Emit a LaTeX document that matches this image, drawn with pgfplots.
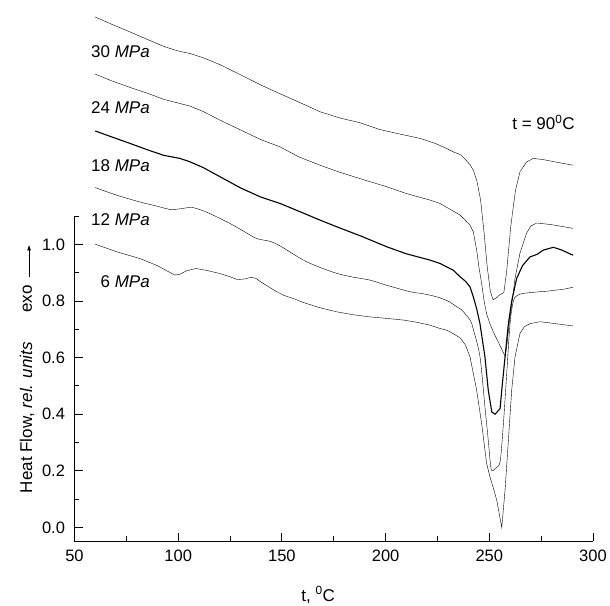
\documentclass[border=0pt]{standalone}
\usepackage{pgfplots}
\pgfplotsset{compat=1.18}
\usetikzlibrary{arrows.meta}
\usepackage{fontspec}
\setmainfont{Liberation Sans}

\pgfplotstableread{
x y
60 1.804
68 1.778
76.8 1.751
85 1.725
92 1.703
97.6 1.689
101 1.682
105.7 1.675
112 1.660
120 1.636
130 1.600
140 1.563
149 1.533
160 1.497
168.4 1.469
178 1.447
187.7 1.430
197.3 1.406
207 1.390
216.6 1.375
224 1.357
229.5 1.339
233 1.326
236 1.318
238.5 1.300
240.7 1.282
242.3 1.262
244 1.225
245.8 1.157
247.5 1.040
249 0.921
250.5 0.835
251.8 0.805
253.2 0.810
255 0.822
257 0.830
258.3 0.900
259.3 0.980
260.3 1.060
261.5 1.130
262.6 1.190
264.8 1.257
268 1.292
271.2 1.304
276 1.300
283 1.290
290.4 1.280
}\thirty

\pgfplotstableread{
x y
60 1.602
68 1.578
76.8 1.555
85 1.535
93 1.513
100.9 1.498
105.7 1.489
112 1.470
120 1.440
130 1.405
140 1.370
149.1 1.345
158 1.310
168.4 1.280
178 1.255
188 1.232
200.5 1.204
210 1.180
221.3 1.157
226.2 1.145
232.6 1.118
235.9 1.104
238.5 1.085
240.7 1.068
242.3 1.045
243.9 0.980
245 0.920
246.3 0.862
247.5 0.800
248.7 0.755
250.3 0.720
252 0.690
254 0.660
256 0.630
257.6 0.605
258.4 0.640
259.6 0.720
261 0.800
262.4 0.880
264.8 0.970
268 1.040
270 1.065
272.9 1.076
280 1.070
290.4 1.057
}\twentyfour

\pgfplotstableread{
x y
60 1.401
68 1.380
76.8 1.357
85 1.335
93 1.315
100.9 1.304
105.7 1.292
112 1.272
120 1.240
130 1.200
140 1.167
149.1 1.145
158 1.118
168.4 1.086
178 1.058
188 1.030
200.5 0.992
210 0.967
221.3 0.945
226.2 0.933
232.6 0.909
235.9 0.886
238.5 0.870
240.7 0.850
242.3 0.815
244 0.770
245.5 0.720
247.9 0.603
249.5 0.485
251.2 0.408
252.8 0.400
254 0.410
255.2 0.420
256 0.485
257.6 0.603
259.2 0.720
260.8 0.800
263.2 0.880
266 0.925
269.6 0.956
273 0.965
276 0.980
280.9 0.990
285 0.980
290.4 0.962
}\eighteen

\pgfplotstableread{
x y
60 1.201
70 1.175
81.6 1.150
90 1.135
96 1.124
101 1.126
105.7 1.131
108.9 1.127
115 1.110
125 1.074
132 1.045
137.8 1.021
144.3 1.011
149.1 0.995
160.3 0.945
168 0.920
176.4 0.898
184 0.885
192.5 0.874
200 0.857
211.8 0.833
218 0.826
224.6 0.815
230 0.800
234.3 0.780
236.5 0.770
240.7 0.733
242.3 0.700
245.5 0.603
247.9 0.426
249.5 0.308
250.7 0.214
251.6 0.200
253 0.210
255.2 0.232
256.8 0.367
258.4 0.544
260 0.720
261.6 0.800
263.5 0.820
266.4 0.827
270 0.830
274.4 0.833
278 0.835
282.5 0.839
286 0.842
290.4 0.849
}\twelve

\pgfplotstableread{
x y
60 1.001
70 0.975
81.6 0.950
90 0.925
95 0.905
98.3 0.892
101 0.895
104 0.907
108.5 0.915
114 0.908
120.2 0.897
125 0.886
128.5 0.876
132 0.878
135.4 0.884
137.5 0.880
139.4 0.870
143 0.853
147.5 0.833
151 0.820
155.5 0.809
160.3 0.795
168 0.777
176.4 0.762
184 0.752
192.5 0.744
200 0.739
208.5 0.733
215 0.725
221.3 0.715
226.2 0.703
229.5 0.697
233 0.683
235.9 0.670
238.5 0.645
240.7 0.603
243.9 0.485
246.3 0.367
248.7 0.226
250.3 0.179
252 0.138
253.6 0.096
255 0.040
256 0.000
257.6 0.132
259.2 0.308
260.8 0.485
262.4 0.603
264.8 0.686
267 0.710
269.6 0.720
274.4 0.727
280 0.722
287.3 0.715
290.4 0.712
}\six

\begin{document}
\begin{tikzpicture}
\path[use as bounding box] (-74.5pt,-64pt) rectangle (535.5pt,541pt);
\begin{axis}[
  at={(0,0)}, anchor=south west,
  scale only axis, width=518.5pt, height=541pt,
  xmin=50, xmax=300, ymin=-0.048, ymax=1.864,
  axis x line*=bottom, axis y line*=left,
  y axis line style={draw=none},
  x axis line style={line width=1pt},
  tick align=inside,
  xtick={50,100,...,300}, minor xtick={75,125,...,275},
  ytick={0,0.2,0.4,0.6,0.8,1.0}, minor ytick={0.1,0.3,0.5,0.7,0.9,1.1},
  major tick length=8pt, minor tick length=5pt,
  every tick/.style={line width=1pt, black},
  /pgf/number format/assume math mode=true,
  yticklabel style={/pgf/number format/fixed, /pgf/number format/fixed zerofill, /pgf/number format/precision=1},
  tick label style={font=\fontsize{16.5}{19}\selectfont},
  xticklabel style={yshift=-5pt},
  yticklabel style={xshift=-6pt},
  clip=false,
  cycle list={{black, no markers, line width=1.1pt, smooth, tension=0.35}},
]
\draw[line width=1pt] (axis cs:50,-0.048) -- (axis cs:50,1.1);
\addplot table[x=x,y=y] {\thirty};
\addplot table[x=x,y=y] {\twentyfour};
\addplot table[x=x,y=y] {\eighteen};
\addplot table[x=x,y=y] {\twelve};
\addplot table[x=x,y=y] {\six};
\begin{scope}[every node/.style={font=\fontsize{17}{20}\selectfont, anchor=east, inner sep=0pt}]
\node at (axis cs:86.4,1.683) {30 \textit{MPa}};
\node at (axis cs:86.4,1.482) {24 \textit{MPa}};
\node at (axis cs:86.4,1.280) {18 \textit{MPa}};
\node at (axis cs:86.4,1.086) {12 \textit{MPa}};
\node at (axis cs:86.4,0.867) {6 \textit{MPa}};
\node at (axis cs:291.3,1.432) {t = 90\textsuperscript{0}C};
\end{scope}
\node[font=\fontsize{17}{20}\selectfont, inner sep=0pt] at (axis cs:167.5,-0.239) {t, \textsuperscript{0}C};
\node[font=\fontsize{17}{20}\selectfont, inner sep=0pt, rotate=90] at (axis cs:27.1,0.388) {Heat Flow, \textit{rel. units}};
\node[font=\fontsize{17}{20}\selectfont, inner sep=0pt, rotate=90] at (axis cs:27.3,0.807) {exo};
\draw[line width=0.9pt, -{Latex[length=6pt,width=4pt]}] (axis cs:28.1,0.885) -- (axis cs:28.1,1.0);
\end{axis}
\end{tikzpicture}
\end{document}
